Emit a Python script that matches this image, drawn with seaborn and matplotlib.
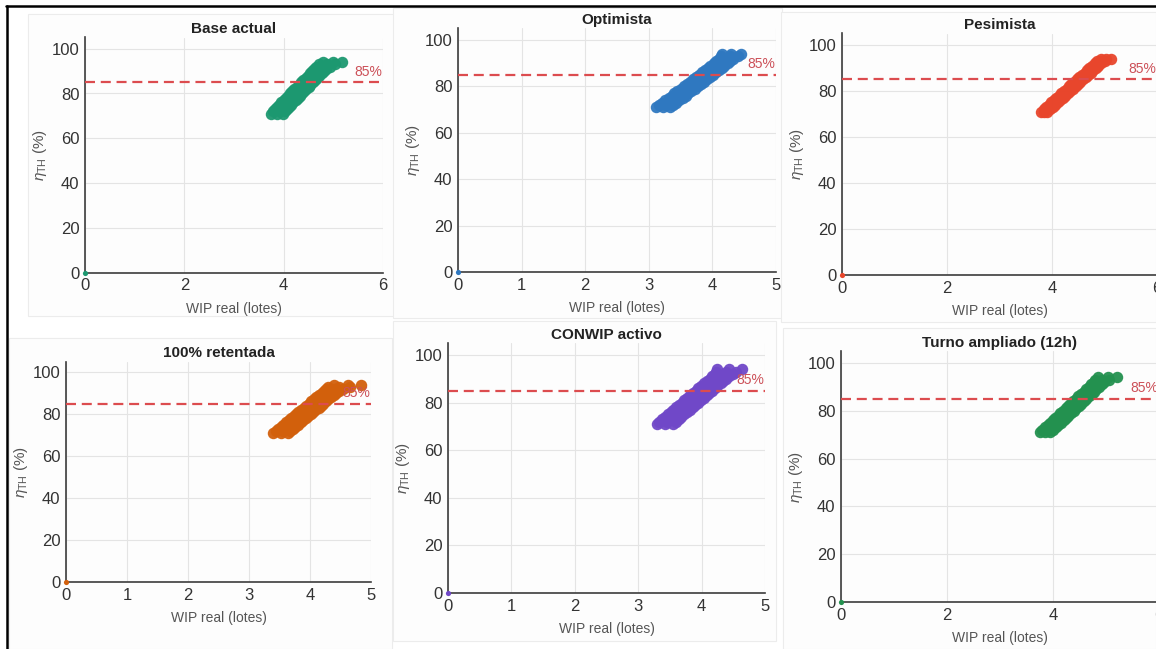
import matplotlib
matplotlib.use("Agg")
import matplotlib.pyplot as plt
import seaborn as sns
import pandas as pd
from matplotlib.patches import Rectangle
from matplotlib.lines import Line2D

# --- data -----------------------------------------------------------------
ETA_LEVELS = list(range(71, 95))          # throughput efficiency levels (%)
START_WIP, START_ETA = 0.0, 0.0           # empty-line starting state
TARGET = 85

base_lo  = [3.74, 3.78, 3.83, 3.87, 3.91, 3.95, 4.00, 4.04, 4.08, 4.12, 4.17, 4.21,
            4.26, 4.30, 4.35, 4.39, 4.44, 4.48, 4.53, 4.57, 4.62, 4.66, 4.72, 4.80]
base_mid = [3.86, 3.90, 3.95, 3.99, 4.03, 4.07, 4.12, 4.16, 4.20, 4.24, 4.29, 4.33,
            4.38, 4.42, 4.47, 4.51, 4.56, 4.60, 4.65, 4.69, 4.74, 4.80, 4.88, 4.99]
base_hi  = [3.98, 4.02, 4.07, 4.11, 4.15, 4.19, 4.24, 4.28, 4.32, 4.36, 4.41, 4.45,
            4.50, 4.54, 4.59, 4.63, 4.68, 4.72, 4.77, 4.81, 4.86, 4.94, 5.04, 5.18]

opt_lo  = [3.11, 3.16, 3.21, 3.26, 3.31, 3.36, 3.40, 3.45, 3.50, 3.55, 3.60, 3.65,
           3.69, 3.74, 3.79, 3.84, 3.88, 3.93, 3.97, 4.02, 4.06, 4.11, 4.14, 4.15]
opt_mid = [3.22, 3.27, 3.32, 3.37, 3.42, 3.47, 3.51, 3.56, 3.61, 3.66, 3.71, 3.76,
           3.80, 3.85, 3.90, 3.95, 3.99, 4.04, 4.08, 4.13, 4.17, 4.22, 4.27, 4.30]
opt_hi  = [3.33, 3.38, 3.43, 3.48, 3.53, 3.58, 3.62, 3.67, 3.72, 3.77, 3.82, 3.87,
           3.91, 3.96, 4.01, 4.06, 4.10, 4.15, 4.19, 4.24, 4.28, 4.33, 4.40, 4.45]

pes_lo  = [3.79, 3.84, 3.89, 3.94, 3.99, 4.04, 4.08, 4.13, 4.18, 4.23, 4.28, 4.33,
           4.37, 4.42, 4.47, 4.52, 4.57, 4.62, 4.66, 4.71, 4.76, 4.81, 4.86, 4.94]
pes_mid = [3.85, 3.90, 3.95, 4.00, 4.05, 4.10, 4.14, 4.19, 4.24, 4.29, 4.34, 4.39,
           4.43, 4.48, 4.53, 4.58, 4.63, 4.68, 4.72, 4.77, 4.82, 4.87, 4.93, 5.03]
pes_hi  = [3.91, 3.96, 4.01, 4.06, 4.11, 4.16, 4.20, 4.25, 4.30, 4.35, 4.40, 4.45,
           4.49, 4.54, 4.59, 4.64, 4.69, 4.74, 4.78, 4.83, 4.88, 4.93, 5.00, 5.12]

ret_lo  = [3.40, 3.44, 3.48, 3.52, 3.56, 3.61, 3.65, 3.69, 3.73, 3.77, 3.81, 3.85,
           3.90, 3.94, 3.98, 4.02, 4.06, 4.10, 4.15, 4.19, 4.23, 4.26, 4.30, 4.40]
ret_mid = [3.52, 3.56, 3.60, 3.64, 3.68, 3.73, 3.77, 3.81, 3.85, 3.89, 3.93, 3.97,
           4.02, 4.06, 4.10, 4.14, 4.18, 4.22, 4.27, 4.31, 4.35, 4.40, 4.48, 4.62]
ret_hi  = [3.64, 3.68, 3.72, 3.76, 3.80, 3.85, 3.89, 3.93, 3.97, 4.01, 4.05, 4.09,
           4.14, 4.18, 4.22, 4.26, 4.30, 4.34, 4.39, 4.43, 4.47, 4.54, 4.66, 4.84]

con_lo  = [3.29, 3.33, 3.38, 3.42, 3.47, 3.51, 3.55, 3.60, 3.64, 3.69, 3.73, 3.77,
           3.82, 3.86, 3.91, 3.95, 3.99, 4.04, 4.08, 4.13, 4.17, 4.21, 4.23, 4.24]
con_mid = [3.42, 3.46, 3.51, 3.55, 3.60, 3.64, 3.68, 3.73, 3.77, 3.82, 3.86, 3.90,
           3.95, 3.99, 4.04, 4.08, 4.12, 4.17, 4.21, 4.26, 4.30, 4.35, 4.39, 4.44]
con_hi  = [3.55, 3.59, 3.64, 3.68, 3.73, 3.77, 3.81, 3.86, 3.90, 3.95, 3.99, 4.03,
           4.08, 4.12, 4.17, 4.21, 4.25, 4.30, 4.34, 4.39, 4.43, 4.49, 4.55, 4.64]

tur_lo  = [3.75, 3.80, 3.85, 3.90, 3.95, 4.00, 4.04, 4.09, 4.14, 4.19, 4.24, 4.29,
           4.33, 4.38, 4.43, 4.48, 4.53, 4.58, 4.62, 4.67, 4.72, 4.77, 4.80, 4.85]
tur_mid = [3.85, 3.90, 3.95, 4.00, 4.05, 4.10, 4.14, 4.19, 4.24, 4.29, 4.34, 4.39,
           4.43, 4.48, 4.53, 4.58, 4.63, 4.68, 4.72, 4.77, 4.82, 4.87, 4.93, 5.03]
tur_hi  = [3.95, 4.00, 4.05, 4.10, 4.15, 4.20, 4.24, 4.29, 4.34, 4.39, 4.44, 4.49,
           4.53, 4.58, 4.63, 4.68, 4.73, 4.78, 4.82, 4.87, 4.92, 4.97, 5.06, 5.21]

titles = ["Base actual", "Optimista", "Pesimista",
          "100% retentada", "CONWIP activo", "Turno ampliado (12h)"]
colors = ["#1c9870", "#2f78c0", "#e8462c", "#d2600c", "#7048c8", "#23914f"]
xmax = [6, 5, 6, 5, 5, 6]
xticks = [[0, 2, 4, 6], [0, 1, 2, 3, 4, 5], [0, 2, 4, 6],
          [0, 1, 2, 3, 4, 5], [0, 1, 2, 3, 4, 5], [0, 2, 4, 6]]
series = [(base_lo, base_mid, base_hi), (opt_lo, opt_mid, opt_hi),
          (pes_lo, pes_mid, pes_hi), (ret_lo, ret_mid, ret_hi),
          (con_lo, con_mid, con_hi), (tur_lo, tur_mid, tur_hi)]

# axes boxes in pixels: left, right, top (y=105), bottom (y=0)
boxes = [(85, 383, 37.5, 272.7), (458, 776, 28.4, 272), (842, 1157, 33.5, 275),
         (66, 371, 361.5, 582), (448, 765, 343, 593), (841, 1159, 351, 602)]
# light card behind every panel: left, right, top, bottom (pixels)
cards = [(28, 396, 14, 316), (393, 782, 8, 318), (781, 1156, 12, 322),
         (9, 392, 338, 649), (393, 776, 321, 641), (783, 1156, 328, 649)]

# --- style ----------------------------------------------------------------
sns.set_theme(style="white")
plt.rcParams["font.family"] = ["Liberation Sans", "DejaVu Sans"]
plt.rcParams["mathtext.fontset"] = "custom"
plt.rcParams["mathtext.rm"] = "Liberation Sans"
plt.rcParams["mathtext.it"] = "Liberation Sans:italic"

W, H = 1156, 649
fig = plt.figure(figsize=(W / 100, H / 100), dpi=100)
fig.patch.set_facecolor("white")

for (l, r, t, b) in cards:
    fig.patches.append(Rectangle((l / W, 1 - b / H), (r - l) / W, (b - t) / H,
                                 transform=fig.transFigure, facecolor="#fdfdfd",
                                 edgecolor="#ececec", lw=0.8, zorder=-5))

axis_col = "#3c3c3c"
for i in range(6):
    l, r, t, b = boxes[i]
    ax = fig.add_axes([l / W, 1 - b / H, (r - l) / W, (b - t) / H])
    ax.set_facecolor("none")
    lo, mid, hi = series[i]
    df = pd.DataFrame({"wip": lo + mid + hi, "eta": ETA_LEVELS * 3})
    sns.scatterplot(data=df, x="wip", y="eta", ax=ax, color=colors[i], s=68,
                    linewidth=0, alpha=0.95, legend=False, zorder=2)
    start = pd.DataFrame({"wip": [START_WIP], "eta": [START_ETA]})
    sns.scatterplot(data=start, x="wip", y="eta", ax=ax, color=colors[i], s=14,
                    linewidth=0, legend=False, clip_on=False, zorder=5)
    ax.axhline(TARGET, color="#dc4c4f", ls=(0, (4.5, 2.6)), lw=1.6, zorder=3)
    ax.text(xmax[i] * 0.997, TARGET + 1.5, "85%", ha="right", va="bottom",
            color="#cc5058", fontsize=10, zorder=4)

    ax.set_xlim(0, xmax[i])
    ax.set_ylim(0, 105)
    ax.set_xticks(xticks[i])
    ax.set_yticks([0, 20, 40, 60, 80, 100])
    ax.grid(True, color="#e4e4e4", lw=0.8)
    ax.set_axisbelow(True)
    for side in ("top", "right"):
        ax.spines[side].set_visible(False)
    for side in ("left", "bottom"):
        ax.spines[side].set_color(axis_col)
        ax.spines[side].set_linewidth(1.2)
    ax.tick_params(direction="in", length=3, width=1, colors=axis_col,
                   labelsize=12, labelcolor="#333333", pad=4)
    ax.set_xlabel("WIP real (lotes)", fontsize=10, color="#555555", labelpad=6)
    ax.set_ylabel(r"$\eta_{\mathrm{TH}}$ (%)", fontsize=11, color="#555555", labelpad=2)
    ax.set_title(titles[i], fontsize=11, fontweight="bold", color="#222222", pad=3)

# black frame along the top and left edges
fig.add_artist(Line2D([6 / W, 1], [1 - 6 / H, 1 - 6 / H], transform=fig.transFigure,
                      color="black", lw=1.8))
fig.add_artist(Line2D([7 / W, 7 / W], [0, 1 - 6 / H], transform=fig.transFigure,
                      color="black", lw=1.8))

fig.savefig("out.png", dpi=100)
